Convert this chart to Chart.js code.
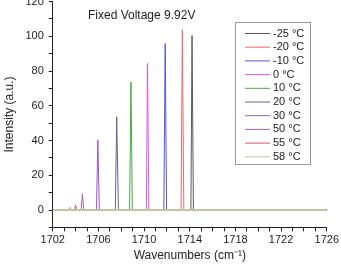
<!DOCTYPE html>
<html>
<head>
<meta charset="utf-8">
<script src="https://cdn.jsdelivr.net/npm/chart.js@4/dist/chart.umd.min.js"></script>
<style>
  html, body { margin: 0; padding: 0; background: #fff; overflow: hidden; }
  #wrap { position: relative; width: 341px; height: 267px; overflow: hidden; }
  #chart { position: absolute; left: 0; top: -10px; }
</style>
</head>
<body>
<div id="wrap"><canvas id="chart" width="341" height="277"></canvas></div>
<script>
// temperatures (legend labels) and colours
const labels = ['-25 °C', '-20 °C', '-10 °C', '0 °C', '10 °C', '20 °C', '30 °C', '50 °C', '55 °C', '58 °C'];
const colors = ['#5a5a5a', '#f06868', '#5454e0', '#e058e0', '#48a848', '#646494', '#9458d4', '#a868b0', '#d85870', '#c4c4a0'];

// spectra, [wavenumber, intensity]
const sM25 = [[1702, 0], [1714.1, 0], [1714.2, 100.5], [1714.32, 0], [1714.6, -0.3], [1726, 0]];
const sM20 = [[1702, 0], [1713.24, 0], [1713.35, 103.8], [1713.48, 0], [1713.7, -0.3], [1726, 0]];
const sM10 = [[1702, 0], [1711.5, -0.3], [1711.73, 0], [1711.85, 95.8], [1711.97, 0], [1726, 0]];
const s0 = [[1702, 0], [1710, -0.2], [1710.2, 0], [1710.3, 84.4], [1710.42, 0], [1726, 0]];
const s10 = [[1702, 0], [1708.73, 0], [1708.85, 73.7], [1708.97, 0], [1726, 0]];
const s20 = [[1702, 0], [1707.48, 0], [1707.6, 53.7], [1707.75, 1], [1707.9, -0.3], [1726, 0]];
const s30 = [[1702, 0], [1705.83, 0], [1705.95, 40.4], [1706.08, 0], [1726, 0]];
const s50 = [[1702, 0], [1704.48, 0], [1704.6, 9.5], [1704.72, 0], [1726, 0]];
const s55 = [[1702, 0], [1703.9, 0], [1704.0, 3], [1704.1, 0], [1726, 0]];
const s58 = [[1702, 0], [1703.42, 0], [1703.5, 1], [1703.6, 0], [1726, 0]];
const spectra = [sM25, sM20, sM10, s0, s10, s20, s30, s50, s55, s58];

const xTicks = [1702, 1706, 1710, 1714, 1718, 1722, 1726];
const yTicks = [0, 20, 40, 60, 80, 100, 120];

const OFF = 10; // canvas is shifted up by this much
const font = 'Liberation Sans, Arial, sans-serif';

const overlay = {
    id: 'overlay',
    afterDraw(chart) {
        const ctx = chart.ctx;
        ctx.save();
        // title inside plot
        ctx.fillStyle = '#222';
        ctx.font = '12px ' + font;
        ctx.textBaseline = 'middle';
        ctx.textAlign = 'left';
        ctx.fillText('Fixed Voltage 9.92V', 88, 16 + OFF);
        // legend box
        ctx.strokeStyle = '#999';
        ctx.lineWidth = 1;
        ctx.strokeRect(235.5, 22.5 + OFF, 75, 142);
        ctx.font = '11px ' + font;
        chart.data.datasets.forEach(function (ds, i) {
            const y = 33.5 + i * 13.7 + OFF;
            ctx.strokeStyle = ds.borderColor;
            ctx.beginPath();
            ctx.moveTo(245, y);
            ctx.lineTo(270, y);
            ctx.stroke();
            ctx.fillStyle = '#222';
            ctx.fillText(ds.label, 273, y);
        });
        ctx.restore();
    }
};

const datasets = spectra.map(function (s, i) {
    return {
        label: labels[i],
        data: s.map(function (p) { return { x: p[0], y: p[1] }; }),
        borderColor: colors[i],
        borderWidth: i === spectra.length - 1 ? 2 : 1,
        pointRadius: 0,
        tension: 0,
        fill: false,
        order: spectra.length - i // last series (58 °C) drawn on top
    };
});

new Chart(document.getElementById('chart'), {
    type: 'line',
    data: { datasets: datasets },
    options: {
        responsive: false,
        animation: false,
        layout: { padding: { left: 2, right: 0, top: 0, bottom: 0 } },
        plugins: { legend: { display: false }, title: { display: false }, tooltip: { enabled: false } },
        scales: {
            x: {
                type: 'linear',
                min: 1702,
                max: 1726,
                ticks: {
                    stepSize: 1,
                    autoSkip: false,
                    maxRotation: 0,
                    color: '#222',
                    font: { family: font, size: 11 },
                    padding: 2,
                    callback: function (v) { return xTicks.includes(v) ? v : ''; }
                },
                grid: { drawOnChartArea: false, drawTicks: true, tickLength: 4, color: '#222' },
                border: { display: true, color: '#222', width: 1 },
                title: { display: true, text: 'Wavenumbers (cm⁻¹)', color: '#222', font: { family: font, size: 12 }, padding: { top: 0, bottom: 4 } }
            },
            y: {
                min: -10,
                max: 120,
                ticks: {
                    stepSize: 10,
                    autoSkip: false,
                    color: '#222',
                    font: { family: font, size: 11 },
                    padding: 5,
                    callback: function (v) { return yTicks.includes(v) ? v : ''; }
                },
                grid: { drawOnChartArea: false, drawTicks: true, tickLength: 4, color: '#222' },
                border: { display: true, color: '#222', width: 1 },
                title: { display: true, text: 'Intensity (a.u.)', color: '#222', font: { family: font, size: 12 }, padding: { top: 0, bottom: 4 } }
            }
        }
    },
    plugins: [overlay]
});
</script>
</body>
</html>
